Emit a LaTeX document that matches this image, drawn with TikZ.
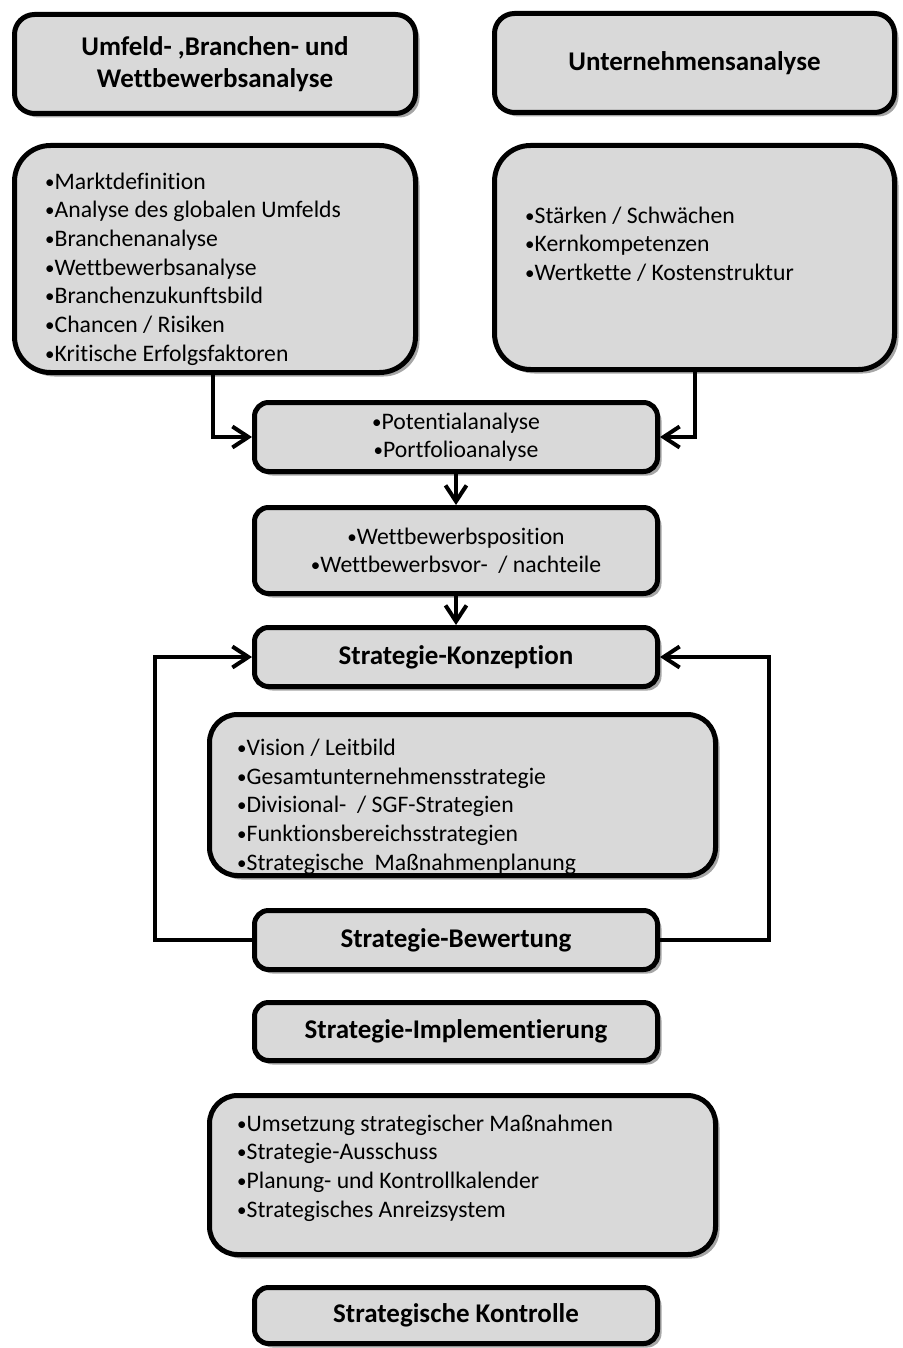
\documentclass[tikz,border=0pt]{standalone}
\usepackage{fontspec}
\setmainfont[Ligatures={NoCommon}]{Carlito}
\usetikzlibrary{shadows,arrows.meta}
\definecolor{boxgray}{HTML}{D9D9D9}
\definecolor{shadowgray}{HTML}{A6A6A6}
\newcommand\bul{\raisebox{1pt}{\fontsize{19}{19}\selectfont •}}
\begin{document}
\begin{tikzpicture}[x=1pt,y=-1pt,
  box/.style={draw=black, line width=5pt, fill=boxgray, rounded corners=#1,
    drop shadow={shadow xshift=4pt, shadow yshift=-4pt, fill=shadowgray, opacity=1},
    inner sep=0pt},
  box/.default=14pt,
  txt/.style={anchor=west, align=left, inner sep=0pt, font=\fontsize{23.7}{28.7}\selectfont},
  ctxt/.style={align=center, inner sep=0pt, font=\fontsize{23.7}{28.2}\selectfont},
  ttl/.style={align=center, font=\bfseries\fontsize{27}{32}\selectfont},
  conn/.style={line width=4pt, -{Straight Barb[length=16pt,width=21pt,line width=4pt]}, line join=miter},
]
\useasboundingbox (0,0) rectangle (902,1348);

% top row
\node[box=20pt, minimum width=401pt, minimum height=99pt, ttl] (A) at (215,64)
  {Umfeld- ,Branchen- und\\Wettbewerbsanalyse};
\node[box=20pt, minimum width=400pt, minimum height=99pt, ttl] (B) at (694.5,63)
  {Unternehmensanalyse};

% list boxes
\node[box=36pt, minimum width=401pt, minimum height=227pt] (C) at (215,259) {};
\node[txt] (Ct) at (45,269) {\bul Marktdefinition\\\bul Analyse des globalen Umfelds\\\bul Branchenanalyse\\\bul Wettbewerbsanalyse\\\bul Branchenzukunftsbild\\\bul Chancen / Risiken\\\bul Kritische Erfolgsfaktoren};

\node[box=36pt, minimum width=400pt, minimum height=224pt] (D) at (694.5,257.5) {};
\node[txt] (Dt) at (525,244) {\bul Stärken / Schwächen\\\bul Kernkompetenzen\\\bul Wertkette / Kostenstruktur};

% middle chain
\node[box=14pt, minimum width=403pt, minimum height=69pt, ctxt] (E) at (456,437)
  {\bul Potentialanalyse\\\bul Portfolioanalyse};
\node[box=14pt, minimum width=403pt, minimum height=86pt, ctxt] (F) at (456,550.5)
  {\bul Wettbewerbsposition\\\bul Wettbewerbsvor-~ / nachteile};
\node[box=14pt, minimum width=403pt, minimum height=59pt, ttl] (G) at (456,657)
  {Strategie-Konzeption};

\node[box=28pt, minimum width=506pt, minimum height=161pt] (H) at (462.5,795) {};
\node[txt] (Ht) at (237,806.5) {\bul Vision / Leitbild\\\bul Gesamtunternehmensstrategie\\\bul Divisional-~ / SGF-Strategien\\\bul Funktionsbereichsstrategien\\\bul Strategische~ Maßnahmenplanung};

\node[box=14pt, minimum width=403pt, minimum height=59pt, ttl] (I) at (456,940)
  {Strategie-Bewertung};
\node[box=14pt, minimum width=403pt, minimum height=58pt, ttl] (J) at (456,1031.5)
  {Strategie-Implementierung};

\node[box=28pt, minimum width=506pt, minimum height=159pt] (K) at (462.5,1175) {};
\node[txt] (Kt) at (237,1168) {\bul Umsetzung strategischer Maßnahmen\\\bul Strategie-Ausschuss\\\bul Planung- und Kontrollkalender\\\bul Strategisches Anreizsystem};

\node[box=14pt, minimum width=403pt, minimum height=56pt, ttl] (L) at (456,1315.5)
  {Strategische Kontrolle};

% connectors
\draw[conn] ([xshift=-2pt]C.south) |- (E.west);
\draw[conn] (D.south) |- (E.east);
\draw[conn] (E.south) -- (F.north);
\draw[conn] (F.south) -- (G.north);
\draw[conn] (I.west) -- ++(-97,0) |- (G.west);
\draw[conn] (I.east) -- ++(109,0) |- (G.east);
\end{tikzpicture}
\end{document}
